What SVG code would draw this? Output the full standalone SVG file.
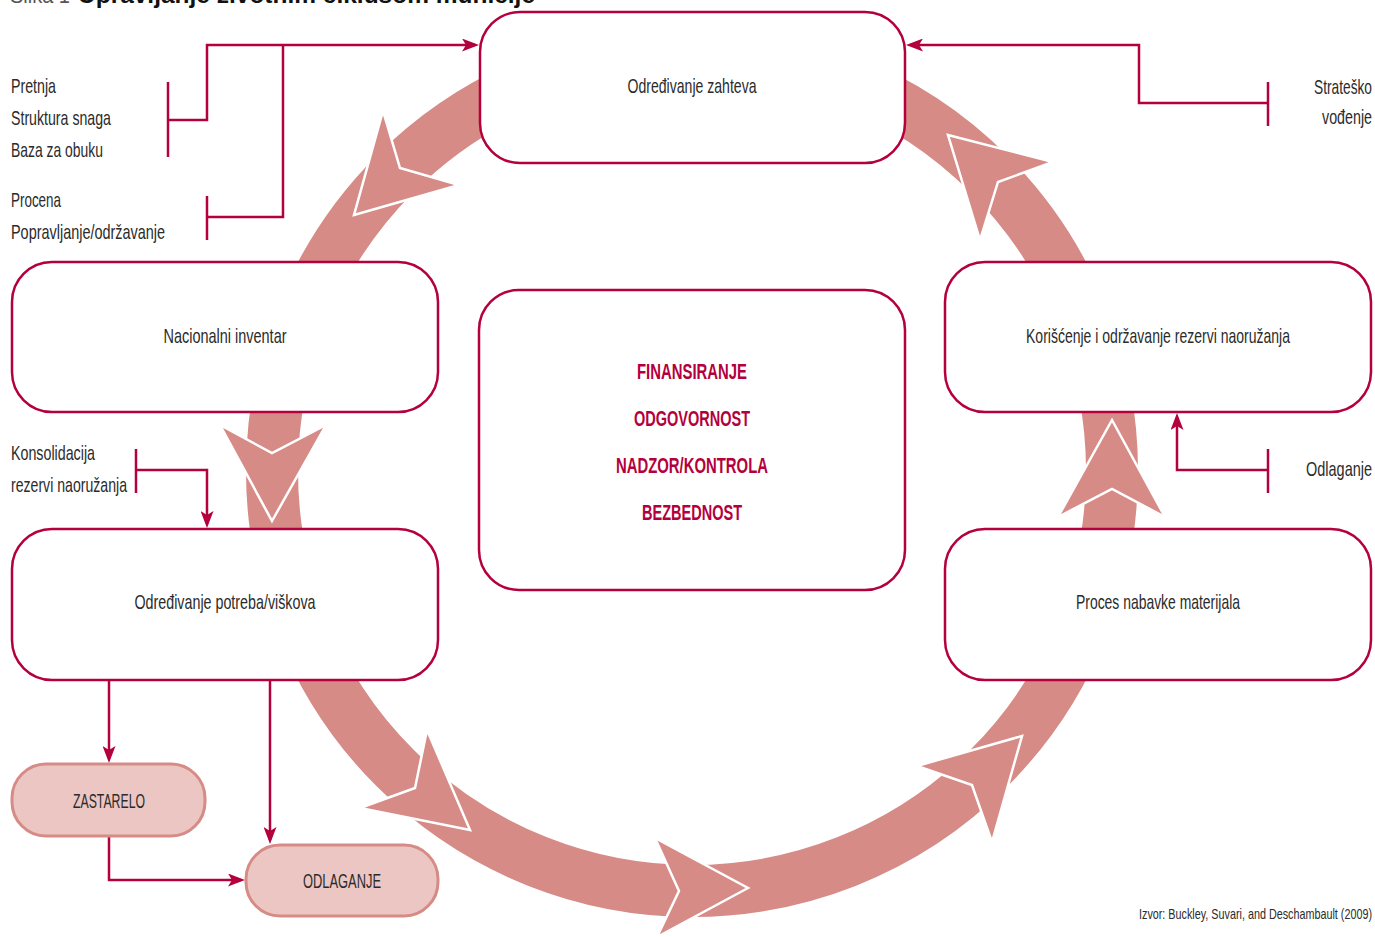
<svg xmlns="http://www.w3.org/2000/svg" width="1375" height="937" viewBox="0 0 1375 937">
<style>
.box{fill:#fff;stroke:#b4003c;stroke-width:2.5}
.pill{fill:#ecc6c2;stroke:#d68b86;stroke-width:3}
.t{font-family:"Liberation Sans Narrow","Liberation Sans",Arial,sans-serif;font-size:21px;fill:#2b2b2b}
.c{text-anchor:middle}
.b{font-family:"Liberation Sans Narrow","Liberation Sans",Arial,sans-serif;font-size:22px;font-weight:bold;fill:#b4003c;text-anchor:middle}
.ah{fill:#d68b86;stroke:#fff;stroke-width:2.5;stroke-linejoin:miter}
.ln{fill:none;stroke:#b4003c;stroke-width:2.5}
</style>
<defs>
<marker id="arr" markerUnits="userSpaceOnUse" markerWidth="17" markerHeight="13" refX="13" refY="6.5" orient="auto">
<path d="M0,0 L17,6.5 L0,13 L4,6.5 z" fill="#b4003c"/>
</marker>
</defs>
<rect width="1375" height="937" fill="#fff"/>

<g id="title">
<text x="10" y="3" class="t" style="font-size:22px;fill:#555" textLength="60" lengthAdjust="spacingAndGlyphs">Slika 1</text>
<text x="78" y="3" style="font-family:'Liberation Sans Narrow','Liberation Sans',Arial,sans-serif;font-size:24px;font-weight:bold;fill:#111" textLength="457" lengthAdjust="spacingAndGlyphs">Upravljanje životnim ciklusom municije</text>
</g>

<g id="cycle">
<circle cx="692" cy="471" r="420" fill="none" stroke="#d68b86" stroke-width="52"/>
<polygon class="ah" points="354,215 459,185 400,168 383,111"/>
<polygon class="ah" points="272,521 326,425 272,453 220,425"/>
<polygon class="ah" points="470,830 360,808 415,788 427,730"/>
<polygon class="ah" points="748,888 657,937 679,891 655,838"/>
<polygon class="ah" points="1022,736 917,766 972,785 992,842"/>
<polygon class="ah" points="1112,420 1058,517 1112,489 1165,517"/>
<polygon class="ah" points="948,135 1053,162 998,182 980,240"/>
</g>

<g id="connectors">
<path class="ln" d="M168,82 V157"/>
<path class="ln" d="M168,120 H207 V45 H475" marker-end="url(#arr)"/>
<path class="ln" d="M207,196 V240"/>
<path class="ln" d="M207,217 H283 V45"/>
<path class="ln" d="M1268,82 V126"/>
<path class="ln" d="M1268,103 H1139 V45 H910" marker-end="url(#arr)"/>
<path class="ln" d="M136,449 V493"/>
<path class="ln" d="M136,470 H207 V524" marker-end="url(#arr)"/>
<path class="ln" d="M1268,449 V493"/>
<path class="ln" d="M1268,470 H1177 V417" marker-end="url(#arr)"/>
<path class="ln" d="M109,681 V759" marker-end="url(#arr)"/>
<path class="ln" d="M270,681 V840" marker-end="url(#arr)"/>
<path class="ln" d="M109,837 V880 H241" marker-end="url(#arr)"/>
</g>

<g id="n-zahteva">
<rect class="box" x="480" y="12" width="425" height="151" rx="40"/>
<text class="t c" x="692" y="93" textLength="129" lengthAdjust="spacingAndGlyphs">Određivanje zahteva</text>
</g>
<g id="n-inventar">
<rect class="box" x="12" y="262" width="426" height="150" rx="40"/>
<text class="t c" x="225" y="343" textLength="123" lengthAdjust="spacingAndGlyphs">Nacionalni inventar</text>
</g>
<g id="n-center">
<rect class="box" x="479" y="290" width="426" height="300" rx="40"/>
<text class="b" x="692" y="379" textLength="110" lengthAdjust="spacingAndGlyphs">FINANSIRANJE</text>
<text class="b" x="692" y="426" textLength="116" lengthAdjust="spacingAndGlyphs">ODGOVORNOST</text>
<text class="b" x="692" y="473" textLength="152" lengthAdjust="spacingAndGlyphs">NADZOR/KONTROLA</text>
<text class="b" x="692" y="520" textLength="100" lengthAdjust="spacingAndGlyphs">BEZBEDNOST</text>
</g>
<g id="n-koriscenje">
<rect class="box" x="945" y="262" width="426" height="150" rx="40"/>
<text class="t c" x="1158" y="343" textLength="264" lengthAdjust="spacingAndGlyphs">Korišćenje i održavanje rezervi naoružanja</text>
</g>
<g id="n-potreba">
<rect class="box" x="12" y="529" width="426" height="151" rx="40"/>
<text class="t c" x="225" y="609" textLength="181" lengthAdjust="spacingAndGlyphs">Određivanje potreba/viškova</text>
</g>
<g id="n-nabavka">
<rect class="box" x="945" y="529" width="426" height="151" rx="40"/>
<text class="t c" x="1158" y="609" textLength="164" lengthAdjust="spacingAndGlyphs">Proces nabavke materijala</text>
</g>
<g id="n-zastarelo">
<rect class="pill" x="12" y="764" width="193" height="72" rx="34"/>
<text class="t c" x="109" y="808" textLength="72" lengthAdjust="spacingAndGlyphs">ZASTARELO</text>
</g>
<g id="n-odlaganje">
<rect class="pill" x="246" y="845" width="192" height="71" rx="34"/>
<text class="t c" x="342" y="888" textLength="78" lengthAdjust="spacingAndGlyphs">ODLAGANJE</text>
</g>

<g id="labels">
<text class="t" x="11" y="93" textLength="45" lengthAdjust="spacingAndGlyphs">Pretnja</text>
<text class="t" x="11" y="125" textLength="100" lengthAdjust="spacingAndGlyphs">Struktura snaga</text>
<text class="t" x="11" y="157" textLength="92" lengthAdjust="spacingAndGlyphs">Baza za obuku</text>
<text class="t" x="11" y="207" textLength="50" lengthAdjust="spacingAndGlyphs">Procena</text>
<text class="t" x="11" y="239" textLength="154" lengthAdjust="spacingAndGlyphs">Popravljanje/održavanje</text>
<text class="t" x="1314" y="94" textLength="58" lengthAdjust="spacingAndGlyphs">Strateško</text>
<text class="t" x="1322" y="124" textLength="50" lengthAdjust="spacingAndGlyphs">vođenje</text>
<text class="t" x="11" y="460" textLength="84" lengthAdjust="spacingAndGlyphs">Konsolidacija</text>
<text class="t" x="11" y="492" textLength="116" lengthAdjust="spacingAndGlyphs">rezervi naoružanja</text>
<text class="t" x="1306" y="476" textLength="66" lengthAdjust="spacingAndGlyphs">Odlaganje</text>
<text class="t" x="1139" y="919" style="font-size:15px" textLength="233" lengthAdjust="spacingAndGlyphs">Izvor: Buckley, Suvari, and Deschambault (2009)</text>
</g>
</svg>
